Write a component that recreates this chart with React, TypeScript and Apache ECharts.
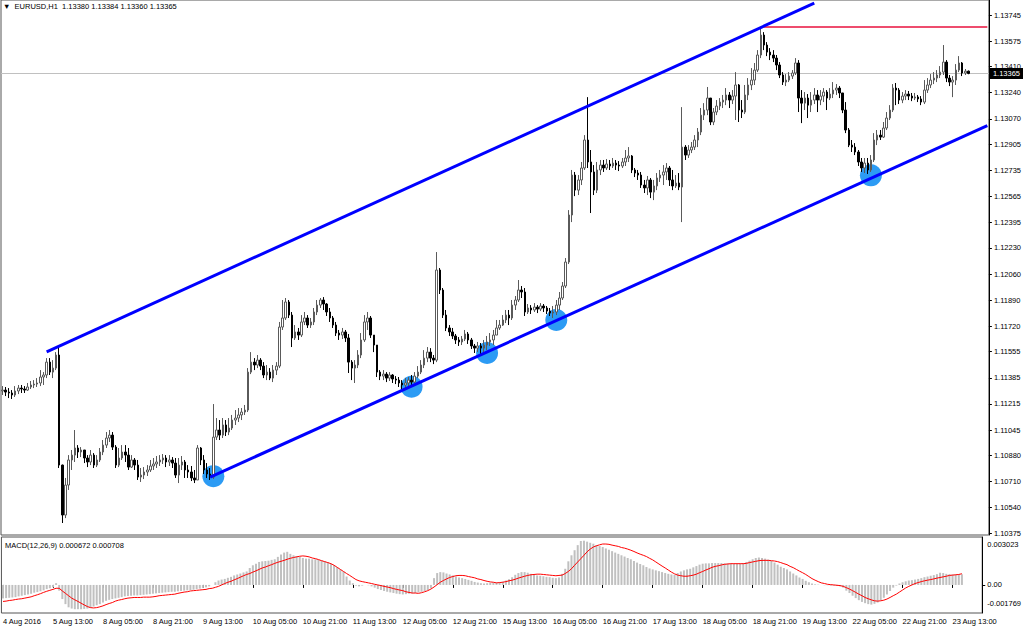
import React, { useEffect, useRef } from "react";
import * as echarts from "echarts";

// ---------- DATA ----------
const symbolName = "EURUSD,H1";
const timeLabels = [
  "4 Aug 2016", "5 Aug 13:00", "8 Aug 05:00", "8 Aug 21:00", "9 Aug 13:00",
  "10 Aug 05:00", "10 Aug 21:00", "11 Aug 13:00", "12 Aug 05:00", "12 Aug 21:00",
  "15 Aug 13:00", "16 Aug 05:00", "16 Aug 21:00", "17 Aug 13:00", "18 Aug 05:00",
  "18 Aug 21:00", "19 Aug 13:00", "22 Aug 05:00", "22 Aug 21:00", "23 Aug 13:00",
];
const barsPerLabel = 16;
const totalSlots = 314; // hourly slots incl. right shift

const priceTicks = [
  "1.13745", "1.13575", "1.13410", "1.13240", "1.13070", "1.12905", "1.12735",
  "1.12565", "1.12395", "1.12230", "1.12060", "1.11890", "1.11720", "1.11555",
  "1.11385", "1.11215", "1.11045", "1.10880", "1.10710", "1.10540", "1.10375",
];
const macdScaleLabels = ["0.003023", "0.00", "-0.001769"];

const firstOpen = 1.11299;
const closes = [
  1.11305,1.11292,1.11286,1.11273,1.11299,1.11318,1.11312,1.11305,1.11325,1.11338,
  1.11344,1.11351,1.11390,1.11403,1.11487,1.11422,1.11448,1.11533,1.10817,1.10492,
  1.10687,1.10850,1.10882,1.10928,1.10902,1.10915,1.10863,1.10837,1.10882,1.10817,
  1.10850,1.10902,1.10947,1.10993,1.11012,1.10934,1.10817,1.10863,1.10902,1.10882,
  1.10804,1.10850,1.10817,1.10739,1.10752,1.10772,1.10785,1.10811,1.10824,1.10837,
  1.10850,1.10863,1.10837,1.10850,1.10830,1.10752,1.10817,1.10837,1.10785,1.10772,
  1.10733,1.10720,1.10928,1.10850,1.10785,1.10759,1.10739,1.10999,1.11045,1.11012,
  1.11078,1.11032,1.11058,1.11110,1.11123,1.11143,1.11162,1.11175,1.11422,1.11487,
  1.11468,1.11500,1.11461,1.11403,1.11422,1.11383,1.11435,1.11461,1.11715,1.11774,
  1.11878,1.11793,1.11644,1.11683,1.11663,1.11748,1.11774,1.11728,1.11748,1.11813,
  1.11858,1.11891,1.11865,1.11813,1.11774,1.11728,1.11676,1.11663,1.11683,1.11644,
  1.11487,1.11448,1.11468,1.11533,1.11631,1.11748,1.11774,1.11663,1.11598,1.11422,
  1.11396,1.11409,1.11383,1.11403,1.11377,1.11370,1.11351,1.11338,1.11351,1.11370,
  1.11357,1.11396,1.11422,1.11468,1.11513,1.11552,1.11513,1.11500,1.12086,1.11956,
  1.11793,1.11709,1.11683,1.11657,1.11631,1.11618,1.11637,1.11670,1.11631,1.11592,
  1.11578,1.11592,1.11578,1.11598,1.11618,1.11631,1.11663,1.11709,1.11728,1.11761,
  1.11793,1.11774,1.11858,1.11891,1.11956,1.11943,1.11813,1.11839,1.11826,1.11845,
  1.11832,1.11852,1.11839,1.11819,1.11806,1.11813,1.11858,1.11904,1.11982,1.12138,
  1.12444,1.12704,1.12606,1.12672,1.12750,1.12932,1.12789,1.12724,1.12606,1.12737,
  1.12769,1.12750,1.12776,1.12763,1.12782,1.12769,1.12763,1.12789,1.12815,1.12828,
  1.12737,1.12717,1.12704,1.12639,1.12620,1.12672,1.12593,1.12633,1.12685,1.12704,
  1.12724,1.12750,1.12672,1.12633,1.12652,1.12626,1.12886,1.12834,1.12867,1.12886,
  1.12932,1.12984,1.13094,1.13127,1.13205,1.13049,1.13114,1.13153,1.13179,1.13192,
  1.13225,1.13192,1.13218,1.13290,1.13127,1.13114,1.13225,1.13290,1.13322,1.13387,
  1.13485,1.13615,1.13550,1.13504,1.13485,1.13465,1.13420,1.13355,1.13309,1.13322,
  1.13348,1.13368,1.13433,1.13205,1.13172,1.13205,1.13159,1.13192,1.13225,1.13192,
  1.13218,1.13244,1.13205,1.13231,1.13257,1.13270,1.13238,1.13127,1.12997,1.12899,
  1.12886,1.12854,1.12789,1.12750,1.12782,1.12737,1.12802,1.12932,1.12964,1.12951,
  1.13010,1.13075,1.13127,1.13270,1.13257,1.13192,1.13218,1.13231,1.13218,1.13205,
  1.13212,1.13199,1.13179,1.13257,1.13290,1.13322,1.13335,1.13355,1.13374,1.13439,
  1.13335,1.13309,1.13322,1.13387,1.13433,1.13368,1.13380,1.13365,
];
const highs = [
  1.11331,1.11325,1.11318,1.11305,1.11331,1.11338,1.11338,1.11331,1.11351,1.11364,
  1.11370,1.11383,1.11435,1.11422,1.11513,1.11513,1.11500,1.11552,1.11585,1.10820,
  1.10733,1.10882,1.10915,1.11045,1.10947,1.10934,1.10915,1.10882,1.10915,1.10895,
  1.10882,1.10928,1.10980,1.11032,1.11045,1.11032,1.10947,1.10928,1.10947,1.10947,
  1.10928,1.10882,1.10863,1.10850,1.10798,1.10804,1.10817,1.10850,1.10863,1.10876,
  1.10882,1.10889,1.10882,1.10882,1.10869,1.10863,1.10863,1.10876,1.10850,1.10817,
  1.10811,1.10785,1.10947,1.10934,1.10882,1.10830,1.10798,1.11214,1.11123,1.11110,
  1.11123,1.11110,1.11123,1.11143,1.11175,1.11188,1.11188,1.11208,1.11448,1.11552,
  1.11513,1.11533,1.11513,1.11487,1.11468,1.11448,1.11468,1.11487,1.11748,1.11891,
  1.11904,1.11891,1.11813,1.11728,1.11709,1.11793,1.11813,1.11793,1.11774,1.11839,
  1.11891,1.11904,1.11910,1.11871,1.11839,1.11787,1.11748,1.11696,1.11709,1.11696,
  1.11670,1.11500,1.11500,1.11565,1.11676,1.11793,1.11813,1.11787,1.11663,1.11585,
  1.11435,1.11435,1.11422,1.11422,1.11409,1.11396,1.11390,1.11370,1.11383,1.11390,
  1.11403,1.11422,1.11461,1.11500,1.11565,1.11585,1.11578,1.11533,1.12203,1.12099,
  1.11969,1.11826,1.11728,1.11709,1.11670,1.11650,1.11657,1.11696,1.11683,1.11644,
  1.11605,1.11618,1.11611,1.11631,1.11657,1.11676,1.11696,1.11761,1.11761,1.11793,
  1.11826,1.11826,1.11891,1.11917,1.12021,1.11982,1.11969,1.11865,1.11858,1.11871,
  1.11858,1.11871,1.11865,1.11852,1.11839,1.11852,1.11891,1.11943,1.12008,1.12164,
  1.12476,1.12737,1.12724,1.12704,1.12789,1.12964,1.13211,1.12867,1.12769,1.12789,
  1.12802,1.12802,1.12808,1.12802,1.12815,1.12802,1.12795,1.12815,1.12867,1.12886,
  1.12834,1.12750,1.12737,1.12724,1.12672,1.12698,1.12685,1.12672,1.12717,1.12737,
  1.12769,1.12782,1.12763,1.12737,1.12704,1.12717,1.13146,1.12899,1.12899,1.12919,
  1.12964,1.13010,1.13140,1.13172,1.13277,1.13205,1.13140,1.13192,1.13205,1.13225,
  1.13270,1.13244,1.13257,1.13374,1.13296,1.13192,1.13290,1.13335,1.13400,1.13433,
  1.13517,1.13667,1.13634,1.13569,1.13530,1.13517,1.13485,1.13439,1.13374,1.13361,
  1.13374,1.13387,1.13465,1.13452,1.13257,1.13244,1.13231,1.13244,1.13270,1.13257,
  1.13257,1.13270,1.13257,1.13270,1.13309,1.13296,1.13283,1.13225,1.13179,1.13010,
  1.12932,1.12912,1.12867,1.12815,1.12815,1.12815,1.12834,1.12977,1.12997,1.12997,
  1.13049,1.13114,1.13159,1.13296,1.13303,1.13270,1.13244,1.13257,1.13251,1.13238,
  1.13238,1.13225,1.13218,1.13322,1.13335,1.13361,1.13374,1.13387,1.13413,1.13550,
  1.13452,1.13355,1.13348,1.13426,1.13478,1.13439,1.13394,1.13384,
];
const lows = [
  1.11273,1.11266,1.11253,1.11247,1.11260,1.11279,1.11286,1.11286,1.11299,1.11312,
  1.11318,1.11325,1.11331,1.11338,1.11383,1.11403,1.11383,1.11435,1.10798,1.10440,
  1.10472,1.10655,1.10785,1.10837,1.10863,1.10869,1.10830,1.10804,1.10817,1.10798,
  1.10804,1.10837,1.10882,1.10928,1.10967,1.10915,1.10798,1.10804,1.10850,1.10837,
  1.10785,1.10798,1.10785,1.10720,1.10707,1.10726,1.10746,1.10772,1.10785,1.10798,
  1.10811,1.10824,1.10804,1.10811,1.10798,1.10733,1.10700,1.10785,1.10733,1.10733,
  1.10713,1.10700,1.10720,1.10817,1.10759,1.10733,1.10720,1.10726,1.10980,1.10980,
  1.10993,1.11006,1.11012,1.11045,1.11078,1.11097,1.11110,1.11143,1.11162,1.11409,
  1.11435,1.11448,1.11435,1.11383,1.11370,1.11370,1.11357,1.11403,1.11448,1.11696,
  1.11761,1.11774,1.11585,1.11631,1.11631,1.11650,1.11728,1.11709,1.11709,1.11728,
  1.11793,1.11839,1.11826,1.11787,1.11748,1.11709,1.11657,1.11631,1.11637,1.11618,
  1.11416,1.11370,1.11351,1.11448,1.11513,1.11618,1.11696,1.11644,1.11552,1.11390,
  1.11370,1.11370,1.11357,1.11364,1.11351,1.11344,1.11325,1.11312,1.11305,1.11331,
  1.11331,1.11351,1.11383,1.11409,1.11448,1.11487,1.11487,1.11474,1.11487,1.11930,
  1.11774,1.11689,1.11657,1.11637,1.11605,1.11592,1.11598,1.11624,1.11605,1.11572,
  1.11546,1.11552,1.11539,1.11552,1.11565,1.11592,1.11598,1.11683,1.11696,1.11722,
  1.11741,1.11728,1.11761,1.11826,1.11878,1.11904,1.11787,1.11800,1.11800,1.11813,
  1.11806,1.11819,1.11813,1.11800,1.11787,1.11774,1.11793,1.11826,1.11891,1.11969,
  1.12125,1.12398,1.12567,1.12574,1.12639,1.12737,1.12750,1.12457,1.12574,1.12587,
  1.12704,1.12724,1.12737,1.12737,1.12750,1.12737,1.12730,1.12750,1.12763,1.12789,
  1.12717,1.12691,1.12672,1.12620,1.12587,1.12574,1.12554,1.12541,1.12606,1.12659,
  1.12639,1.12672,1.12633,1.12606,1.12620,1.12606,1.12398,1.12802,1.12815,1.12847,
  1.12867,1.12886,1.12964,1.13062,1.13094,1.13029,1.13029,1.13094,1.13127,1.13140,
  1.13159,1.13140,1.13166,1.13062,1.13049,1.13075,1.13101,1.13192,1.13257,1.13290,
  1.13374,1.13465,1.13517,1.13478,1.13452,1.13439,1.13387,1.13335,1.13290,1.13283,
  1.13309,1.13329,1.13355,1.13114,1.13042,1.13127,1.13075,1.13114,1.13166,1.13114,
  1.13159,1.13179,1.13127,1.13192,1.13205,1.13225,1.13205,1.13107,1.12977,1.12886,
  1.12854,1.12834,1.12763,1.12724,1.12717,1.12711,1.12724,1.12789,1.12899,1.12932,
  1.12945,1.12997,1.13062,1.13114,1.13159,1.13166,1.13172,1.13192,1.13192,1.13185,
  1.13192,1.13179,1.13159,1.13166,1.13238,1.13270,1.13296,1.13309,1.13335,1.13355,
  1.13309,1.13283,1.13211,1.13290,1.13374,1.13348,1.13355,1.13360,
];

const macdMain = [
  -0.00085,-0.00083,-0.00081,-0.00079,-0.00077,-0.00072,-0.00068,-0.00064,-0.00060,-0.00055,
  -0.00049,-0.00045,-0.00040,-0.00034,-0.00026,-0.00021,-0.00015,0.00011,-0.00036,-0.00089,
  -0.00121,-0.00141,-0.00149,-0.00153,-0.00153,-0.00153,-0.00151,-0.00149,-0.00145,-0.00136,
  -0.00128,-0.00121,-0.00111,-0.00100,-0.00094,-0.00089,-0.00085,-0.00081,-0.00077,-0.00072,
  -0.00070,-0.00068,-0.00066,-0.00066,-0.00064,-0.00062,-0.00060,-0.00058,-0.00055,-0.00053,
  -0.00051,-0.00049,-0.00047,-0.00045,-0.00043,-0.00043,-0.00040,-0.00038,-0.00036,-0.00034,
  -0.00032,-0.00030,-0.00026,-0.00023,-0.00019,-0.00015,-0.00009,0.00000,0.00017,0.00028,
  0.00034,0.00038,0.00045,0.00051,0.00060,0.00066,0.00072,0.00079,0.00085,0.00107,
  0.00124,0.00134,0.00145,0.00149,0.00151,0.00153,0.00158,0.00162,0.00177,0.00192,
  0.00204,0.00209,0.00196,0.00187,0.00181,0.00177,0.00170,0.00166,0.00166,0.00162,
  0.00162,0.00160,0.00155,0.00149,0.00143,0.00132,0.00124,0.00111,0.00098,0.00085,
  0.00053,0.00028,0.00011,-0.00004,-0.00009,-0.00004,0.00000,-0.00002,-0.00009,-0.00017,
  -0.00026,-0.00032,-0.00038,-0.00043,-0.00047,-0.00051,-0.00055,-0.00058,-0.00060,-0.00058,
  -0.00055,-0.00053,-0.00051,-0.00047,-0.00043,-0.00038,-0.00032,-0.00021,0.00043,0.00075,
  0.00081,0.00079,0.00072,0.00066,0.00060,0.00053,0.00047,0.00043,0.00038,0.00032,
  0.00026,0.00019,0.00015,0.00011,0.00009,0.00011,0.00013,0.00015,0.00017,0.00019,
  0.00021,0.00028,0.00036,0.00049,0.00064,0.00075,0.00081,0.00081,0.00077,0.00070,
  0.00064,0.00060,0.00058,0.00055,0.00051,0.00049,0.00045,0.00043,0.00047,0.00070,
  0.00102,0.00149,0.00187,0.00219,0.00251,0.00277,0.00279,0.00273,0.00266,0.00260,
  0.00251,0.00245,0.00239,0.00230,0.00222,0.00213,0.00204,0.00196,0.00187,0.00179,
  0.00170,0.00162,0.00151,0.00141,0.00132,0.00124,0.00113,0.00104,0.00098,0.00092,
  0.00087,0.00081,0.00075,0.00070,0.00066,0.00064,0.00075,0.00085,0.00092,0.00098,
  0.00102,0.00111,0.00119,0.00128,0.00134,0.00136,0.00136,0.00138,0.00138,0.00138,
  0.00138,0.00136,0.00136,0.00136,0.00134,0.00134,0.00134,0.00138,0.00145,0.00153,
  0.00162,0.00170,0.00173,0.00170,0.00166,0.00160,0.00151,0.00141,0.00128,0.00115,
  0.00107,0.00098,0.00085,0.00072,0.00060,0.00047,0.00038,0.00026,0.00017,0.00009,
  0.00004,0.00002,0.00000,-0.00002,-0.00002,-0.00004,-0.00004,-0.00006,-0.00009,-0.00017,
  -0.00036,-0.00051,-0.00068,-0.00083,-0.00096,-0.00107,-0.00115,-0.00121,-0.00124,-0.00119,
  -0.00111,-0.00098,-0.00081,-0.00060,-0.00038,-0.00017,-0.00004,0.00009,0.00017,0.00023,
  0.00028,0.00030,0.00034,0.00038,0.00043,0.00049,0.00053,0.00058,0.00062,0.00068,
  0.00077,0.00075,0.00070,0.00068,0.00066,0.00066,0.00064,0.000672,
];
const macdSignal = [
  -0.00104,-0.00102,-0.00098,-0.00096,-0.00092,-0.00089,-0.00087,-0.00083,-0.00079,-0.00075,
  -0.00068,-0.00062,-0.00055,-0.00047,-0.00040,-0.00034,-0.00028,-0.00021,-0.00021,-0.00038,
  -0.00053,-0.00068,-0.00083,-0.00094,-0.00104,-0.00115,-0.00126,-0.00136,-0.00143,-0.00145,
  -0.00143,-0.00138,-0.00132,-0.00124,-0.00117,-0.00111,-0.00102,-0.00096,-0.00092,-0.00087,
  -0.00083,-0.00081,-0.00079,-0.00079,-0.00079,-0.00077,-0.00077,-0.00077,-0.00075,-0.00072,
  -0.00068,-0.00066,-0.00064,-0.00062,-0.00060,-0.00058,-0.00053,-0.00049,-0.00045,-0.00043,
  -0.00038,-0.00036,-0.00034,-0.00032,-0.00030,-0.00028,-0.00023,-0.00021,-0.00015,-0.00009,
  0.00000,0.00009,0.00017,0.00023,0.00032,0.00040,0.00049,0.00058,0.00066,0.00072,
  0.00081,0.00089,0.00098,0.00107,0.00113,0.00121,0.00128,0.00136,0.00143,0.00149,
  0.00155,0.00162,0.00168,0.00173,0.00177,0.00181,0.00183,0.00181,0.00177,0.00170,
  0.00166,0.00160,0.00153,0.00147,0.00141,0.00134,0.00124,0.00111,0.00098,0.00085,
  0.00072,0.00060,0.00047,0.00034,0.00026,0.00021,0.00017,0.00013,0.00009,0.00004,
  0.00000,-0.00004,-0.00009,-0.00013,-0.00017,-0.00023,-0.00028,-0.00032,-0.00036,-0.00043,
  -0.00047,-0.00051,-0.00051,-0.00053,-0.00049,-0.00043,-0.00036,-0.00026,-0.00013,0.00002,
  0.00017,0.00028,0.00038,0.00047,0.00053,0.00058,0.00060,0.00060,0.00058,0.00053,
  0.00049,0.00045,0.00038,0.00034,0.00028,0.00023,0.00019,0.00017,0.00013,0.00015,
  0.00017,0.00021,0.00026,0.00030,0.00036,0.00043,0.00049,0.00055,0.00060,0.00064,
  0.00066,0.00068,0.00068,0.00066,0.00064,0.00062,0.00060,0.00058,0.00060,0.00062,
  0.00072,0.00085,0.00102,0.00124,0.00145,0.00166,0.00187,0.00209,0.00226,0.00239,
  0.00247,0.00253,0.00258,0.00258,0.00256,0.00251,0.00247,0.00243,0.00236,0.00232,
  0.00226,0.00219,0.00211,0.00202,0.00194,0.00187,0.00179,0.00168,0.00158,0.00145,
  0.00132,0.00119,0.00107,0.00094,0.00081,0.00070,0.00062,0.00058,0.00055,0.00055,
  0.00058,0.00062,0.00068,0.00077,0.00085,0.00094,0.00102,0.00111,0.00117,0.00121,
  0.00126,0.00130,0.00132,0.00134,0.00134,0.00134,0.00134,0.00134,0.00136,0.00141,
  0.00145,0.00149,0.00153,0.00155,0.00155,0.00155,0.00153,0.00151,0.00147,0.00141,
  0.00134,0.00128,0.00117,0.00109,0.00098,0.00087,0.00077,0.00066,0.00053,0.00040,
  0.00030,0.00021,0.00013,0.00009,0.00004,0.00002,0.00000,-0.00002,-0.00004,-0.00009,
  -0.00017,-0.00026,-0.00036,-0.00047,-0.00058,-0.00068,-0.00079,-0.00087,-0.00094,-0.00100,
  -0.00102,-0.00100,-0.00096,-0.00089,-0.00079,-0.00068,-0.00058,-0.00045,-0.00032,-0.00019,
  -0.00009,0.00000,0.00009,0.00015,0.00021,0.00026,0.00030,0.00034,0.00038,0.00043,
  0.00047,0.00051,0.00055,0.00060,0.00062,0.00064,0.00066,0.000708,
];

// drawn objects: [bar index, price]
const channelUpper = [[14, 1.11554], [258, 1.13822]];
const channelLower = [[66, 1.10739], [313, 1.13025]];
const resistanceLevel = [[241, 1.13667], [313, 1.13667]];
const touchPoints = [[67, 1.10745], [130, 1.11327], [154, 1.11546], [176, 1.11761], [276, 1.12702]];

// ---------- CHART ----------
const FONT = "'Liberation Sans', Arial, sans-serif";

function buildOption() {
  const categories = Array.from({ length: totalSlots }, (_, i) => String(i));
  const candles = closes.map((c, i) => {
    const o = i === 0 ? firstOpen : closes[i - 1];
    return [o, c, Math.min(lows[i], o, c), Math.max(highs[i], o, c)];
  });
  const last = candles[candles.length - 1];
  const header = `▼  ${symbolName}  ${last[0].toFixed(5)} ${last[3].toFixed(5)} ${last[2].toFixed(5)} ${last[1].toFixed(5)}`;
  const macdHeader = `MACD(12,26,9) ${macdMain[macdMain.length - 1].toFixed(6)} ${macdSignal[macdSignal.length - 1].toFixed(6)}`;
  const tickVals = priceTicks.map(Number);
  const mMax = Number(macdScaleLabels[0]);
  const mMin = Number(macdScaleLabels[2]);
  const mRange = mMax - mMin;
  const lastClose = closes[closes.length - 1];

  return {
    animation: false,
    backgroundColor: "#ffffff",
    textStyle: { fontFamily: FONT },
    title: [
      { text: header, left: 3, top: 2, padding: 0, textStyle: { fontSize: 7.5, fontWeight: "normal", color: "#000", fontFamily: FONT } },
      { text: macdHeader, left: 5, top: 541, padding: 0, textStyle: { fontSize: 7.5, fontWeight: "normal", color: "#000", fontFamily: FONT } },
    ],
    grid: [
      { left: 1, top: 0, width: 988, height: 535, show: true, borderColor: "#555", borderWidth: 1, backgroundColor: "#fff" },
      { left: 1, top: 537, width: 988, height: 76, show: true, borderColor: "#555", borderWidth: 1, backgroundColor: "#fff" },
    ],
    xAxis: [
      { type: "category", gridIndex: 0, data: categories, boundaryGap: true, show: false },
      {
        type: "category", gridIndex: 1, data: categories, boundaryGap: true,
        axisLine: { show: false },
        axisTick: { show: true, length: 3, interval: (i: number) => i % barsPerLabel === 0, lineStyle: { color: "#000" }, alignWithLabel: true },
        axisLabel: {
          show: true, interval: (i: number) => i % barsPerLabel === 0,
          formatter: (_v: string, i: number) => timeLabels[i / barsPerLabel] ?? "",
          align: "left", fontSize: 7.5, color: "#000", margin: 4, fontFamily: FONT, hideOverlap: false,
        },
        splitLine: { show: false },
      },
    ],
    yAxis: [
      {
        type: "value", gridIndex: 0, position: "right", min: 1.10362, max: 1.13843, scale: true,
        axisLine: { show: true, lineStyle: { color: "#000" } },
        axisTick: { show: true, length: 3, customValues: tickVals, lineStyle: { color: "#000" } },
        axisLabel: {
          show: true, customValues: tickVals, margin: 5, fontSize: 7.5, color: "#000", fontFamily: FONT,
          formatter: (v: number) => priceTicks[tickVals.findIndex((t) => Math.abs(t - v) < 1e-7)] ?? "",
        },
        splitLine: { show: false },
      },
      {
        type: "value", gridIndex: 1, position: "right", min: mMin, max: mMax,
        axisLine: { show: true, lineStyle: { color: "#000" } },
        axisTick: { show: true, length: 3, customValues: [0], lineStyle: { color: "#000" } },
        axisLabel: {
          show: true, margin: 5, fontSize: 7.5, color: "#000", fontFamily: FONT,
          customValues: [mMax - 0.105 * mRange, 0, mMin + 0.13 * mRange],
          formatter: (v: number) => (v > mRange * 0.2 ? macdScaleLabels[0] : v < -mRange * 0.1 ? macdScaleLabels[2] : macdScaleLabels[1]),
        },
        splitLine: { show: false },
      },
    ],
    series: [
      {
        type: "scatter", xAxisIndex: 0, yAxisIndex: 0, data: touchPoints, symbolSize: 22, z: 1,
        itemStyle: { color: "#2196f3", opacity: 0.95 }, silent: true,
      },
      {
        type: "candlestick", xAxisIndex: 0, yAxisIndex: 0, data: candles, barWidth: 2, z: 2, large: false,
        itemStyle: { color: "#ffffff", color0: "#000000", borderColor: "#5a5a5a", borderColor0: "#000000", borderWidth: 1 },
        markLine: {
          silent: true, symbol: ["none", "none"], z: 1, precision: 5,
          lineStyle: { color: "#c0c0c0", type: "solid", width: 1 },
          label: {
            show: true, position: "end", formatter: lastClose.toFixed(5), distance: 1,
            backgroundColor: "#000", color: "#fff", fontSize: 7.5, padding: [2, 3, 1, 3], fontFamily: FONT,
          },
          data: [{ yAxis: lastClose }],
        },
      },
      {
        type: "line", xAxisIndex: 0, yAxisIndex: 0, data: resistanceLevel, symbol: "none", z: 3,
        lineStyle: { color: "#e8103c", width: 1.5 }, silent: true,
      },
      {
        type: "line", xAxisIndex: 0, yAxisIndex: 0, data: channelUpper, symbol: "none", z: 4,
        lineStyle: { color: "#0000ff", width: 3 }, silent: true,
      },
      {
        type: "line", xAxisIndex: 0, yAxisIndex: 0, data: channelLower, symbol: "none", z: 4,
        lineStyle: { color: "#0000ff", width: 3 }, silent: true,
      },
      {
        type: "bar", xAxisIndex: 1, yAxisIndex: 1, data: macdMain, barWidth: 2, z: 2,
        itemStyle: { color: "#c0c0c0" }, silent: true,
      },
      {
        type: "line", xAxisIndex: 1, yAxisIndex: 1, data: macdSignal, symbol: "none", z: 3,
        lineStyle: { color: "#ff0000", width: 1 }, silent: true,
      },
    ],
  };
}

export default function App() {
  const ref = useRef<HTMLDivElement>(null);
  useEffect(() => {
    if (!ref.current) return;
    const chart = echarts.init(ref.current, null, { renderer: "svg" });
    chart.setOption(buildOption() as any);
    return () => chart.dispose();
  }, []);
  return (
    <div
      ref={ref}
      style={{ position: "fixed", left: 0, top: 0, width: 1024, height: 630, background: "#fff" }}
    />
  );
}
